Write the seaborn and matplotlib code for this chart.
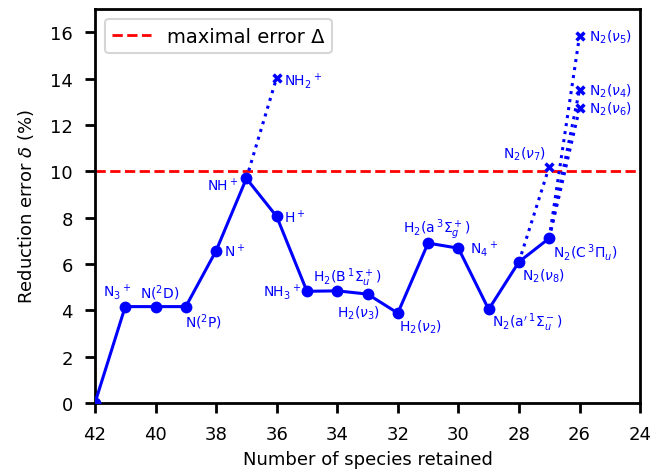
import matplotlib
matplotlib.use("Agg")
import matplotlib.pyplot as plt
import seaborn as sns
import pandas as pd

# Main reduction path: number of species kept vs. reduction error (%)
n_species = [42, 41, 40, 39, 38, 37, 36, 35, 34, 33, 32, 31, 30, 29, 28, 27]
error_pct = [0.0, 4.16, 4.16, 4.16, 6.57, 9.69, 8.05, 4.82, 4.84, 4.70,
             3.88, 6.90, 6.68, 4.04, 6.09, 7.11]
removed = ["", r"N$_3$$^+$", r"N($^2$D)", r"N($^2$P)", r"N$^+$", r"NH$^+$",
           r"H$^+$", r"NH$_3$$^+$", r"H$_2$(B$\,^1\Sigma_u^+$)", r"H$_2$($\nu_3$)",
           r"H$_2$($\nu_2$)", r"H$_2$(a$\,^3\Sigma_g^+$)", r"N$_4$$^+$",
           r"N$_2$(a$'\,^1\Sigma_u^-$)", r"N$_2$($\nu_8$)", r"N$_2$(C$\,^3\Pi_u$)"]

# Rejected branches: (start species count, end species count, error at end, label)
branch_from = [37, 28, 27, 27, 27]
branch_to = [36, 27, 26, 26, 26]
branch_err = [14.04, 10.2, 15.84, 13.51, 12.71]
branch_lab = [r"NH$_2$$^+$", r"N$_2$($\nu_7$)", r"N$_2$($\nu_5$)",
              r"N$_2$($\nu_4$)", r"N$_2$($\nu_6$)"]

max_error = 10.0

# label placement (pixel offsets, alignment) for the main path
main_off = [(0, 0, "center"), (-8, 15, "center"), (4, 14, "center"), (18, -15, "center"),
            (8, 0, "left"), (-8, -6, "right"), (7, 0, "left"), (-6, 0, "right"),
            (10, 14, "center"), (-9, -18, "center"), (1, -13, "left"),
            (9, 14, "center"), (12, 0, "left"), (3, -12, "left"), (3, -13, "left"),
            (4, -13, "left")]
branch_off = [(7, -3, "left"), (-3, 13, "right"), (9, 0, "left"), (9, 0, "left"),
              (9, 0, "left")]

sns.set_style("ticks")
plt.rcParams["font.family"] = ["DejaVu Sans"]
plt.rcParams["mathtext.fontset"] = "dejavusans"
plt.rcParams["text.color"] = "black"
plt.rcParams["axes.labelcolor"] = "black"
plt.rcParams["xtick.color"] = "black"
plt.rcParams["ytick.color"] = "black"

fig, ax = plt.subplots(figsize=(6.64, 4.77), dpi=100)
fig.subplots_adjust(left=0.143, right=0.964, top=0.979, bottom=0.153)

blue = "#0000ff"

main_df = pd.DataFrame({"n": n_species, "err": error_pct})
sns.lineplot(data=main_df, x="n", y="err", sort=False, ax=ax, color=blue,
             linewidth=2.2, marker="o", markersize=8.5, markeredgewidth=0,
             zorder=4)

start_err = dict(zip(n_species, error_pct))
for a, b, e in zip(branch_from, branch_to, branch_err):
    seg = pd.DataFrame({"n": [a, b], "err": [start_err[a], e]})
    sns.lineplot(data=seg, x="n", y="err", sort=False, ax=ax, color=blue,
                 linewidth=2.2, linestyle=":", zorder=3)
br_df = pd.DataFrame({"n": branch_to, "err": branch_err})
sns.scatterplot(data=br_df, x="n", y="err", ax=ax, color=blue, marker="x",
                s=32, linewidth=2.5, zorder=5)

ax.axhline(max_error, color="red", linestyle="--", linewidth=2,
           label="maximal error Δ", zorder=2)

for n, e, lab, (dx, dy, ha) in zip(n_species, error_pct, removed, main_off):
    if lab:
        ax.annotate(lab, (n, e), xytext=(dx, dy), textcoords="offset pixels",
                    ha=ha, va="center", fontsize=10, color=blue)
for n, e, lab, (dx, dy, ha) in zip(branch_to, branch_err, branch_lab, branch_off):
    ax.annotate(lab, (n, e), xytext=(dx, dy), textcoords="offset pixels",
                ha=ha, va="center", fontsize=10, color=blue)

ax.set_xlim(42, 24)
ax.set_ylim(0, 17)
ax.set_xticks(range(42, 23, -2))
ax.set_yticks(range(0, 17, 2))
ax.set_xlabel("Number of species retained", fontsize=13, labelpad=5)
ax.set_ylabel(r"Reduction error $\delta$ (%)", fontsize=13, labelpad=10)
ax.tick_params(axis="both", labelsize=13, width=2, length=7, pad=9,
               direction="out", color="black", labelcolor="black")
for sp in ax.spines.values():
    sp.set_linewidth(2)
    sp.set_color("black")
    sp.set_visible(True)

leg = ax.legend(loc="upper left", fontsize=14, frameon=True, fancybox=True)
leg.get_frame().set_edgecolor("#cccccc")
leg.get_frame().set_linewidth(1.5)

fig.savefig("out.png", dpi=100)
